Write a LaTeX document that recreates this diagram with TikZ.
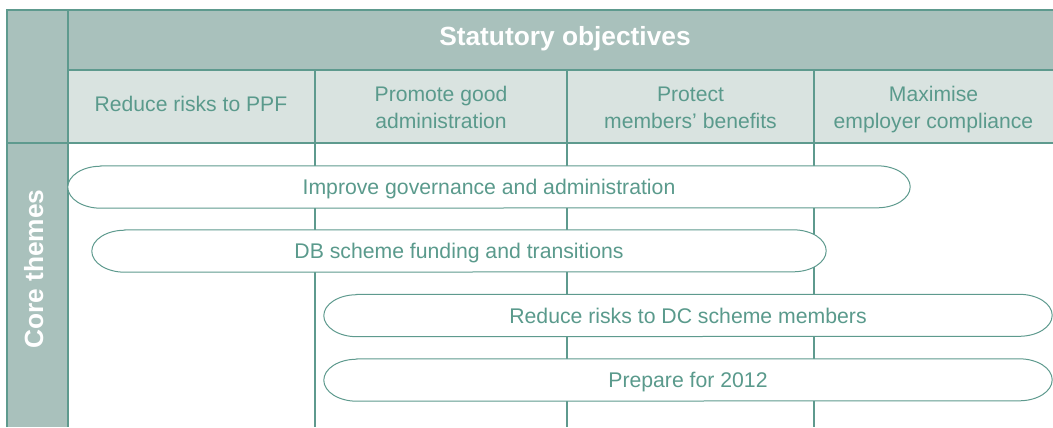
\documentclass[tikz,border=0pt]{standalone}
\usepackage{fontspec}
\setmainfont{Liberation Sans}
\usetikzlibrary{calc}

\definecolor{tpHead}{HTML}{A9C1BC}
\definecolor{tpSub}{HTML}{D9E3E0}
\definecolor{tpLine}{HTML}{5E9A8E}
\definecolor{tpText}{HTML}{5A9A8C}

\pgfdeclarelayer{grid}
\pgfdeclarelayer{pills}
\pgfsetlayers{grid,pills,main}

\tikzset{
  gridline/.style={draw=tpLine, line width=1.5bp},
  headtext/.style={font=\fontsize{26.4}{30}\selectfont\bfseries, text=white, inner sep=0pt},
  subtext/.style={font=\fontsize{21.2}{27}\selectfont, text=tpText, align=center, inner sep=0pt},
  pilltext/.style={font=\fontsize{21.3}{25}\selectfont, text=tpText, inner sep=0pt,
                   minimum height=42bp, text height=15bp, text depth=0bp},
  pillline/.style={draw=tpLine, fill=white, line width=1bp},
}

\begin{document}
\begin{tikzpicture}[x=1bp, y=-1bp]
\useasboundingbox (0,0) rectangle (1053,427);

% table frame, header bands and column rules
\begin{pgfonlayer}{grid}
  \fill[tpHead] (68,10) rectangle (1053,70);
  \fill[tpHead] (7,10) rectangle (68,427);
  \fill[tpSub] (68,70) rectangle (1053,143);
  \draw[gridline] (7,427) -- (7,10) -- (1053,10);
  \draw[gridline] (68,10) -- (68,427);
  \draw[gridline] (68,70) -- (1053,70);
  \draw[gridline] (7,143) -- (1053,143);
  \foreach \cx in {315,567,814}
    \draw[gridline] (\cx,70) -- (\cx,427);
\end{pgfonlayer}

% headings
\node[headtext, anchor=base] (title) at (565,45) {Statutory objectives};
\node[headtext, anchor=base, rotate=90] (core) at (43,269) {Core themes};

\node[subtext, anchor=base] (obj1) at (191,111) {Reduce risks to PPF};
\node[subtext] (obj2) at (441,107.5) {Promote good\\administration};
\node[subtext] (obj3) at (690.5,107.5) {Protect\\members’ benefits};
\node[subtext] (obj4) at (933.5,109.5) {Maximise\\employer compliance};

% themes
\node[pilltext, minimum width=842bp] (p1) at (489,187) {Improve governance and administration};
\node[pilltext, minimum width=734bp] (p2) at (459,251) {DB scheme funding and transitions};
\node[pilltext, minimum width=728bp] (p3) at (688,315.5) {Reduce risks to DC scheme members};
\node[pilltext, minimum width=728bp] (p4) at (688,380) {Prepare for 2012};

\begin{pgfonlayer}{pills}
  \foreach \p in {p1,p2,p3,p4}
    \draw[pillline]
      ($(\p.north west)+(33,0)$) -- ($(\p.north east)+(-33,0)$)
      arc[start angle=90, end angle=-90, x radius=33bp, y radius=21bp]
      -- ($(\p.south west)+(33,0)$)
      arc[start angle=270, end angle=90, x radius=33bp, y radius=21bp]
      -- cycle;
\end{pgfonlayer}
\end{tikzpicture}
\end{document}
